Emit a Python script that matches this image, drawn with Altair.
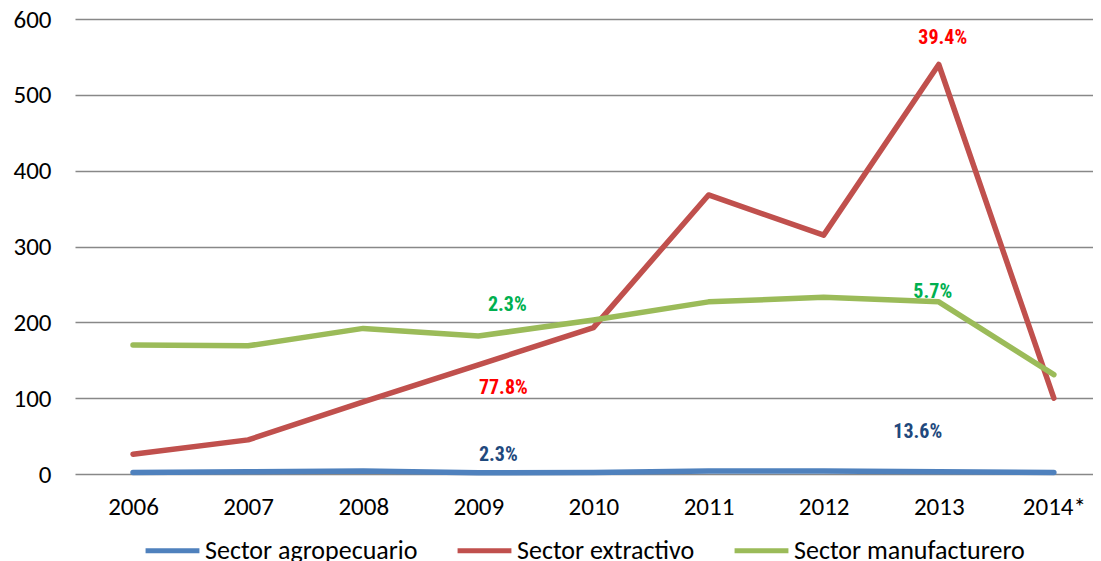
import altair as alt
import pandas as pd

years = ["2006", "2007", "2008", "2009", "2010", "2011", "2012", "2013", "2014*"]
agro = [2, 3, 4, 1.5, 2, 4, 4, 3, 2]
extractivo = [26, 45, 95, 144, 193, 368, 315, 540, 100]
manufacturero = [170, 169, 192, 182, 203, 227, 233, 227, 131]
series_names = ["Sector agropecuario", "Sector extractivo", "Sector manufacturero"]
series_colors = ["#4F81BD", "#C0504D", "#9BBB59"]
y_ticks = [0, 100, 200, 300, 400, 500, 600]

# annotations: text, year, y-value, pixel dx, colour
ann_text = ["2.3%", "77.8%", "2.3%", "39.4%", "5.7%", "13.6%"]
ann_year = ["2009", "2009", "2009", "2013", "2013", "2013"]
ann_val = [223, 113, 25, 575, 240, 55]
ann_dx = [29, 25, 20, 4, -6, -21]
ann_color = ["#00B050", "#FF0000", "#1F497D", "#FF0000", "#00B050", "#1F497D"]

rows = []
for name, vals in zip(series_names, [agro, extractivo, manufacturero]):
    for i, (y, v) in enumerate(zip(years, vals)):
        rows.append({"idx": i, "year": y, "value": v, "series": name})
df = pd.DataFrame(rows)

FONT = "Carlito, Lato, Open Sans, sans-serif"
AFONT = "Liberation Sans Narrow, Roboto Condensed, DejaVu Sans Condensed, sans-serif"

label_expr = "[" + ",".join("'" + y + "'" for y in years) + "][datum.value]"
xscale = alt.Scale(domain=[-0.504, 8.34], nice=False, zero=False)
yscale = alt.Scale(domain=[0, 600])

lines = alt.Chart(df).mark_line(strokeWidth=5.5, strokeCap="round", strokeJoin="round").encode(
    x=alt.X("idx:Q", scale=xscale,
            axis=alt.Axis(title=None, values=list(range(len(years))), labelExpr=label_expr,
                          ticks=False, domain=False, grid=False,
                          labelPadding=20, labelFontSize=25, labelFont=FONT, labelColor="#000000")),
    y=alt.Y("value:Q", scale=yscale,
            axis=alt.Axis(title=None, values=y_ticks, ticks=False,
                          domain=False, gridColor="#888888", gridWidth=1.5, gridOpacity=1,
                          labelPadding=24, labelFontSize=25, labelFont=FONT, labelColor="#000000")),
    color=alt.Color("series:N", scale=alt.Scale(domain=series_names, range=series_colors),
                    legend=alt.Legend(title=None, orient="none", legendX=68, legendY=502,
                                      direction="horizontal", symbolType="stroke",
                                      symbolStrokeWidth=5, symbolSize=2900,
                                      labelFontSize=26, labelFont=FONT, labelColor="#000000",
                                      labelLimit=400, columnPadding=29, labelOffset=3)),
)

layers = [lines]
for t, yr, v, dx, c in zip(ann_text, ann_year, ann_val, ann_dx, ann_color):
    adf = pd.DataFrame({"idx": [years.index(yr)], "value": [v], "label": [t]})
    layers.append(
        alt.Chart(adf).mark_text(font=AFONT, fontSize=20, fontWeight="bold", color=c, dx=dx).encode(
            x=alt.X("idx:Q", scale=xscale),
            y=alt.Y("value:Q", scale=yscale),
            text="label:N",
        )
    )

chart = alt.layer(*layers).properties(
    width=1018, height=455,
    autosize=alt.AutoSizeParams(type="none"),
    padding={"left": 67, "top": 11, "right": 0, "bottom": 87},
).configure_view(stroke=None)

chart.save("out.html", embed_options={"renderer": "svg", "actions": False})
